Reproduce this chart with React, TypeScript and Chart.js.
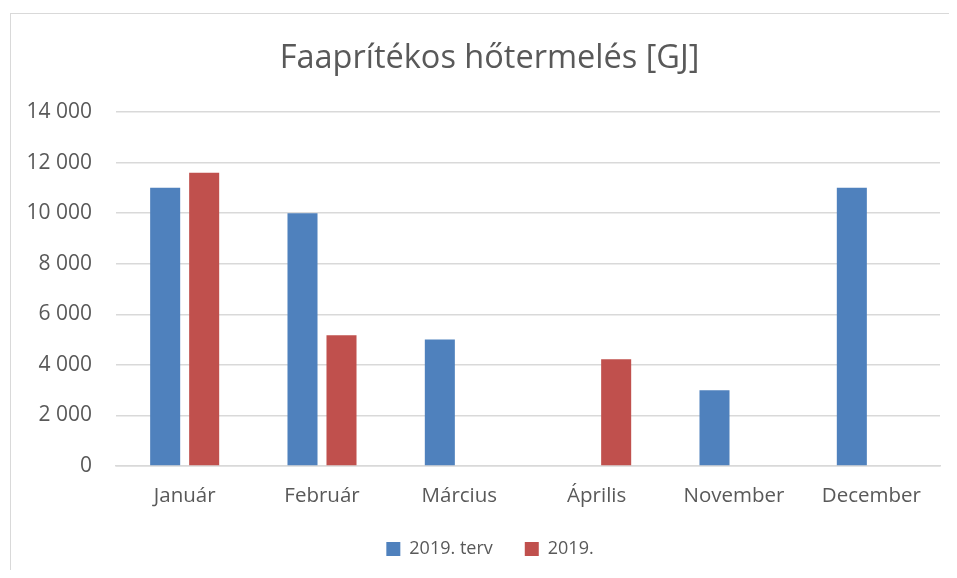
import React, { useEffect, useRef } from "react";
import { Chart, registerables } from "chart.js";

Chart.register(...registerables);

const TITLE = "Faaprítékos hőtermelés [GJ]";
const categories = ["Január", "Február", "Március", "Április", "November", "December"];
const planLabel = "2019. terv";
const actualLabel = "2019.";
const planValues: (number | null)[] = [11000, 10000, 5000, null, 3000, 11000];
const actualValues: (number | null)[] = [11600, 5170, null, 4220, null, null];
const yMin = 0;
const yMax = 14000;
const yStep = 2000;

const BLUE = "#4F81BD";
const RED = "#C0504D";
const TEXT = "#595959";
const GRID = "#D9D9D9";
const FONT = "'Open Sans', 'Noto Sans', sans-serif";

function fmt(v: number): string {
  const s = Math.round(v).toString();
  return s.replace(/\B(?=(\d{3})+(?!\d))/g, " ");
}

const shiftTitle = {
  id: "shiftTitle",
  afterLayout(chart: any) {
    if (chart.titleBlock) {
      chart.titleBlock.left += 31;
    }
    if (chart.legend) {
      chart.legend.left += 16;
      chart.legend.right += 16;
    }
  },
};

export default function App() {
  const ref = useRef<HTMLCanvasElement | null>(null);

  useEffect(() => {
    if (!ref.current) return;
    const chart = new Chart(ref.current, {
      type: "bar",
      data: {
        labels: categories,
        datasets: [
          {
            label: planLabel,
            data: planValues,
            backgroundColor: BLUE,
            categoryPercentage: 0.568,
            barPercentage: 0.77,
          },
          {
            label: actualLabel,
            data: actualValues,
            backgroundColor: RED,
            categoryPercentage: 0.568,
            barPercentage: 0.77,
          },
        ],
      },
      options: {
        animation: false,
        responsive: false,
        maintainAspectRatio: false,
        layout: { padding: { left: 0, right: 9, top: 0, bottom: 2 } },
        plugins: {
          title: {
            display: true,
            text: TITLE,
            color: TEXT,
            font: { family: FONT, size: 32.5, weight: "normal" },
            padding: { top: 31, bottom: 34 },
          },
          legend: {
            position: "bottom",
            labels: {
              color: TEXT,
              font: { family: FONT, size: 18 },
              boxWidth: 14,
              boxHeight: 14,
              padding: 32,
            },
          },
          tooltip: { enabled: false },
        },
        scales: {
          x: {
            grid: { display: false, drawTicks: false },
            border: { display: true, color: GRID, width: 1.5 },
            ticks: {
              color: TEXT,
              font: { family: FONT, size: 20.5 },
              padding: 18,
            },
            afterFit: (s: any) => {
              s.height = 42;
            },
          },
          y: {
            min: yMin,
            max: yMax,
            grid: { color: GRID, lineWidth: 1.5, drawTicks: false },
            border: { display: false },
            ticks: {
              stepSize: yStep,
              color: TEXT,
              font: { family: FONT, size: 21 },
              padding: 24,
              callback: (v: any) => fmt(Number(v)),
            },
            afterFit: (s: any) => {
              s.width = 108;
            },
          },
        },
      },
      plugins: [shiftTitle],
    });
    return () => chart.destroy();
  }, []);

  return (
    <div style={{ position: "relative", width: 941, height: 562, overflow: "hidden" }}>
      <div
        style={{
          position: "absolute",
          left: 2,
          top: 5,
          width: 945,
          height: 557,
          borderLeft: "1.5px solid #D9D9D9",
          borderTop: "1.5px solid #D9D9D9",
          boxSizing: "border-box",
        }}
      />
      <canvas ref={ref} width={941} height={562} style={{ position: "absolute", left: 0, top: 0 }} />
    </div>
  );
}
